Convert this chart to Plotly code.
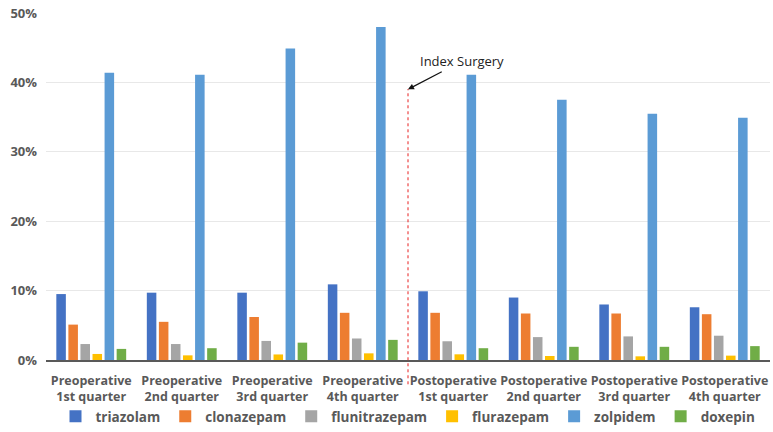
import plotly.graph_objects as go

categories = ["Preoperative<br>1st quarter", "Preoperative<br>2nd quarter", "Preoperative<br>3rd quarter",
              "Preoperative<br>4th quarter", "Postoperative<br>1st quarter", "Postoperative<br>2nd quarter",
              "Postoperative<br>3rd quarter", "Postoperative<br>4th quarter"]
triazolam = [9.5, 9.7, 9.7, 10.9, 9.9, 9.0, 8.0, 7.6]
clonazepam = [5.1, 5.5, 6.2, 6.8, 6.8, 6.7, 6.7, 6.6]
flunitrazepam = [2.3, 2.3, 2.75, 3.1, 2.7, 3.3, 3.4, 3.5]
flurazepam = [0.87, 0.67, 0.8, 0.96, 0.82, 0.58, 0.53, 0.63]
zolpidem = [41.4, 41.1, 44.9, 48.0, 41.1, 37.5, 35.5, 34.9]
doxepin = [1.6, 1.7, 2.5, 2.9, 1.7, 1.9, 1.9, 2.0]

series = [("triazolam", triazolam, "#4472C4"), ("clonazepam", clonazepam, "#ED7D31"),
          ("flunitrazepam", flunitrazepam, "#A5A5A5"), ("flurazepam", flurazepam, "#FFC000"),
          ("zolpidem", zolpidem, "#5B9BD5"), ("doxepin", doxepin, "#70AD47")]

fig = go.Figure()
for name, vals, col in series:
    fig.add_trace(go.Bar(x=categories, y=vals, name=name, marker_color=col, marker_line_width=0))

font_fam = "Open Sans, sans-serif"
fig.update_layout(
    width=773, height=432,
    margin=dict(l=46, r=3, t=13, b=72, autoexpand=False),
    plot_bgcolor="white", paper_bgcolor="white",
    barmode="group", bargap=0.2, bargroupgap=0.21,
    font=dict(family=font_fam, color="#595959"),
    legend=dict(orientation="h", x=0.5, xanchor="center", yref="container", y=0, yanchor="bottom",
                bgcolor="rgba(0,0,0,0)",
                font=dict(size=13.5, weight="bold", color="#595959"), traceorder="normal",
                itemwidth=30, tracegroupgap=0),
    showlegend=True,
)
fig.update_yaxes(range=[0, 50], dtick=10, ticksuffix="%", showgrid=True, gridcolor="#E8E8E8",
                 zeroline=False, tickfont=dict(size=13, weight="bold", color="#595959"), ticks="",
                 showline=False, automargin=False, ticklabelstandoff=8)
fig.update_xaxes(showline=True, linecolor="#595959", linewidth=2, ticks="", tickangle=0,
                 automargin=False, ticklabelstandoff=8,
                 tickfont=dict(size=12.5, weight="bold", color="#595959"))

fig.add_shape(type="line", xref="x", yref="paper", x0=3.5, x1=3.5, y0=-0.07, y1=0.781,
              line=dict(color="#E82020", width=1, dash="dot"))
fig.add_annotation(x=3.5, y=39.0, xref="x", yref="y", text="Index Surgery", showarrow=True,
                   ax=54, ay=-28, arrowhead=2, arrowsize=1, arrowwidth=1.2, arrowcolor="#111111",
                   font=dict(size=13, color="#222222", family=font_fam))

fig.write_html("out.html", config={"displayModeBar": False},
               post_script="document.body.style.margin='0';document.body.style.overflow='hidden';")
